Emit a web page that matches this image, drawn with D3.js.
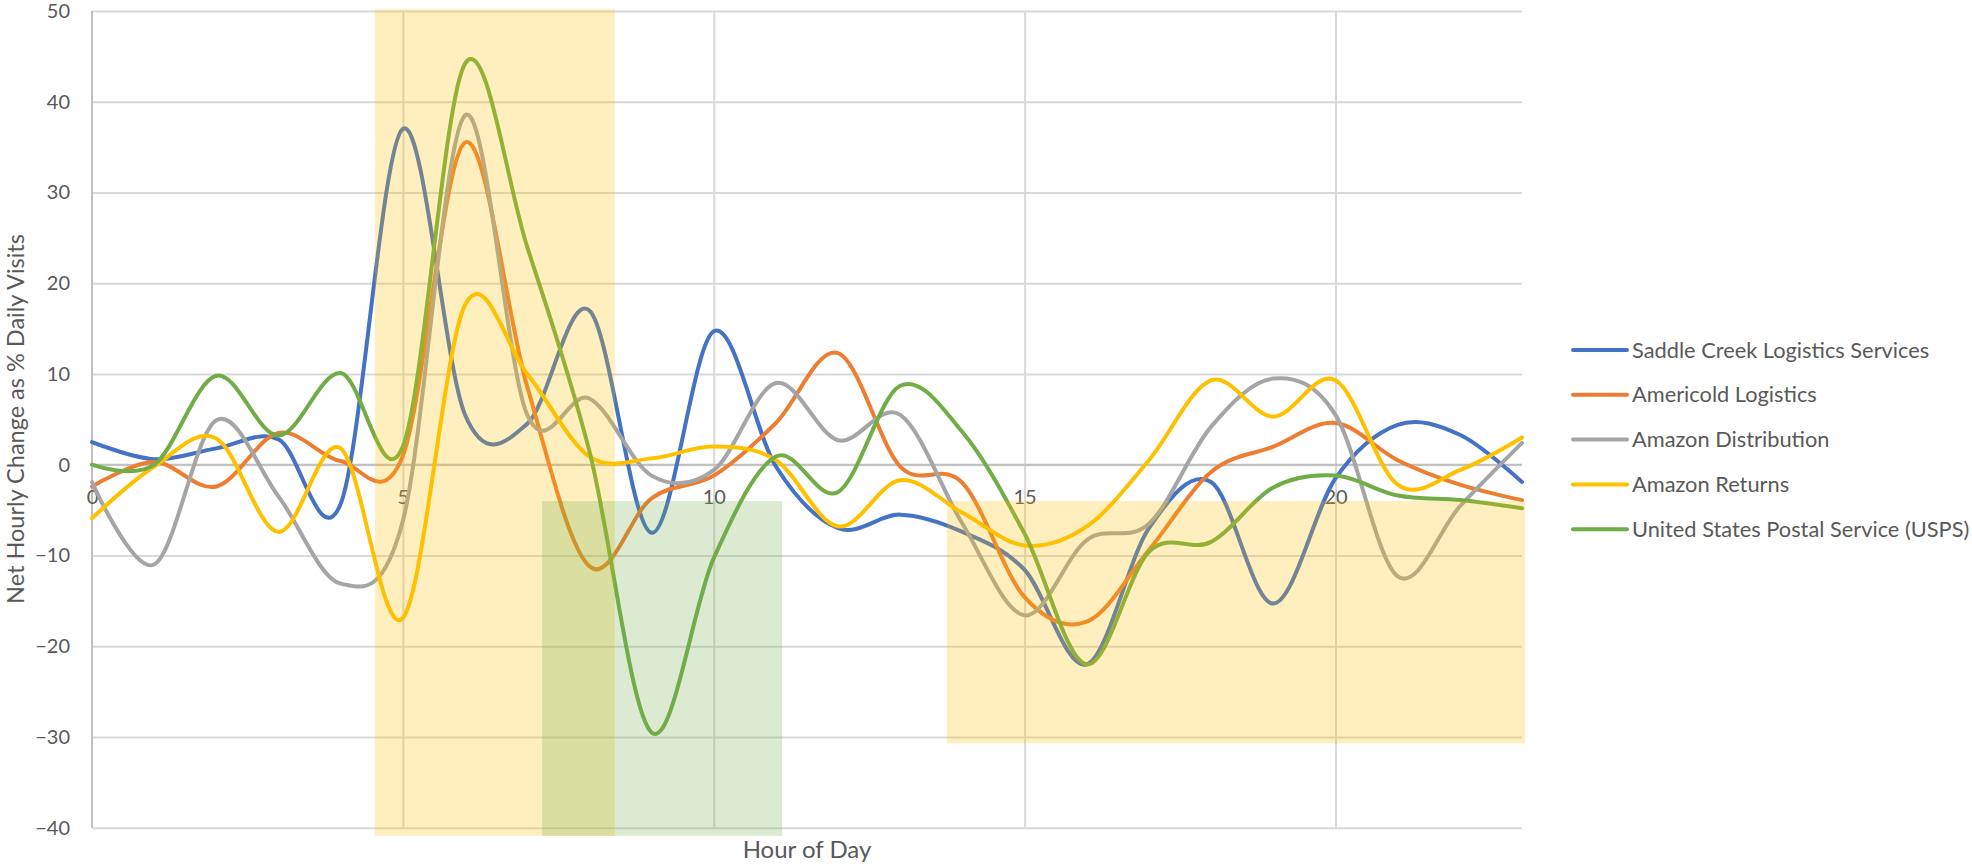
<!DOCTYPE html>
<html>
<head>
<meta charset="utf-8">
<script src="https://cdn.jsdelivr.net/npm/d3@7"></script>
<style>
  body { margin: 0; background: #fff; }
  text { font-family: Lato, "Open Sans", sans-serif; fill: #595959; }
</style>
</head>
<body>
<div id="chart"></div>
<script>
/*
Net hourly change chart - smoothed lines with shaded time windows
 */

var hours = d3.range(0, 24);

var seriesNames = [
    "Saddle Creek Logistics Services",
    "Americold Logistics",
    "Amazon Distribution",
    "Amazon Returns",
    "United States Postal Service (USPS)"
];

var seriesColors = ["#4472C4", "#ED7D31", "#A5A5A5", "#FFC000", "#70AD47"];

var saddleCreek = [2.5, 0.6, 1.8, 2.8, -4.3, 37, 5.5, 4.5, 17, -7.5, 14.7, -0.2,
    -7, -5.5, -7.4, -11.6, -22, -7, -1.9, -15.3, -1.5, 4.4, 3.3, -1.9];
var americold = [-2.4, 0.3, -2.4, 3.5, 0.4, 1.0, 35.5, 8.6, -11.2, -3.7, -1.2, 4.6,
    12.3, -0.2, -2, -14.6, -17.3, -9.4, -0.8, 2.0, 4.6, 0.5, -2.2, -3.9];
var amazonDist = [-1.9, -11, 4.9, -3.5, -13.1, -6.2, 38.5, 5.5, 7.3, -1.2, -0.6, 9.0,
    2.7, 5.5, -6.5, -16.6, -8.3, -6.5, 4.2, 9.5, 5.5, -12.3, -4.6, 2.4];
var amazonReturns = [-5.9, -0.2, 2.9, -7.4, 1.8, -16.9, 17.6, 10, 0.9, 0.7, 2.0, 0.5,
    -6.8, -1.7, -5.3, -8.9, -6.8, 0.5, 9.3, 5.3, 9.3, -2.2, -0.6, 3.0];
var usps = [0, 0, 9.8, 3.2, 10.1, 2.0, 44.2, 24, 1.5, -29.5, -10.3, 0.9,
    -3, 8.7, 3.6, -7.6, -22, -9.6, -8.5, -2.5, -1.2, -3.4, -3.9, -4.8];

var seriesValues = [saddleCreek, americold, amazonDist, amazonReturns, usps];

var xTicks = [0, 5, 10, 15, 20];
var yTicks = [-40, -30, -20, -10, 0, 10, 20, 30, 40, 50];

// shaded windows: [hourFrom, hourTo, valueFrom, valueTo]
var highlights = [
    [4.55, 8.41, -40.9, 50.2],
    [7.24, 11.1, -40.9, -4],
    [13.75, 23.05, -30.7, -4]
];
var highlightColors = ["#FFC000", "#70AD47", "#FFC000"];

var W = 1972, H = 865;
var plotL = 92, plotR = 1522, plotT = 11, plotB = 827.7;

var svg = d3.select("#chart")
    .append("svg")
    .attr("width", W)
    .attr("height", H);

var x = d3.scaleLinear().domain([0, 23]).range([plotL, plotR]);
var y = d3.scaleLinear().domain([-40, 50]).range([plotB, plotT]);

// horizontal gridlines + y labels
var yAxis = svg.append("g")
    .attr("transform", "translate(" + plotL + ",0)")
    .call(d3.axisLeft(y).tickValues(yTicks).tickSize(-(plotR - plotL)).tickPadding(22));
yAxis.select(".domain").remove();
yAxis.selectAll("line").attr("stroke", "#D9D9D9").attr("stroke-width", 2);
yAxis.selectAll("text").style("font-size", "20px").attr("fill", "#595959");

// vertical gridlines
var xGrid = svg.append("g")
    .attr("transform", "translate(0," + plotT + ")")
    .call(d3.axisBottom(x).tickValues([5, 10, 15, 20]).tickSize(plotB - plotT).tickFormat(""));
xGrid.select(".domain").remove();
xGrid.selectAll("line").attr("stroke", "#D9D9D9").attr("stroke-width", 2);

// axis lines
svg.append("line")
    .attr("x1", plotL).attr("x2", plotL)
    .attr("y1", plotT).attr("y2", plotB)
    .attr("stroke", "#BFBFBF").attr("stroke-width", 2);
svg.append("line")
    .attr("x1", plotL).attr("x2", plotR)
    .attr("y1", y(0)).attr("y2", y(0))
    .attr("stroke", "#BFBFBF").attr("stroke-width", 2);

// x labels sit under the zero line
var xAxis = svg.append("g")
    .attr("transform", "translate(0," + y(0) + ")")
    .call(d3.axisBottom(x).tickValues(xTicks).tickSize(0).tickPadding(25));
xAxis.select(".domain").remove();
xAxis.selectAll("text").style("font-size", "20px").attr("fill", "#595959");

// lines
var line = d3.line()
    .x(function(d, i) { return x(hours[i]); })
    .y(function(d) { return y(d); })
    .curve(d3.curveCardinal.tension(0));

svg.append("g")
    .selectAll("path")
    .data(seriesValues)
    .enter()
    .append("path")
    .attr("d", line)
    .attr("fill", "none")
    .attr("stroke", function(d, i) { return seriesColors[i]; })
    .attr("stroke-width", 4)
    .attr("stroke-linecap", "round")
    .attr("stroke-linejoin", "round");

// translucent windows drawn over the lines
svg.append("g")
    .selectAll("rect")
    .data(highlights)
    .enter()
    .append("rect")
    .attr("x", function(d) { return x(d[0]); })
    .attr("width", function(d) { return x(d[1]) - x(d[0]); })
    .attr("y", function(d) { return y(d[3]); })
    .attr("height", function(d) { return y(d[2]) - y(d[3]); })
    .attr("fill", function(d, i) { return highlightColors[i]; })
    .attr("fill-opacity", 0.25);

// axis titles
svg.append("text")
    .attr("x", (plotL + plotR) / 2)
    .attr("y", 858)
    .attr("text-anchor", "middle")
    .style("font-size", "24px")
    .text("Hour of Day");

svg.append("text")
    .attr("transform", "translate(24,419) rotate(-90)")
    .attr("text-anchor", "middle")
    .style("font-size", "23.5px")
    .text("Net Hourly Change as % Daily Visits");

// legend
var legend = svg.append("g")
    .selectAll("g")
    .data(seriesNames)
    .enter()
    .append("g")
    .attr("transform", function(d, i) { return "translate(1573," + (350 + i * 44.8) + ")"; });

legend.append("line")
    .attr("x1", 0).attr("x2", 54)
    .attr("stroke", function(d, i) { return seriesColors[i]; })
    .attr("stroke-width", 4)
    .attr("stroke-linecap", "round");

legend.append("text")
    .attr("x", 59)
    .attr("dy", "0.35em")
    .style("font-size", "21.8px")
    .text(function(d) { return d; });
</script>
</body>
</html>
